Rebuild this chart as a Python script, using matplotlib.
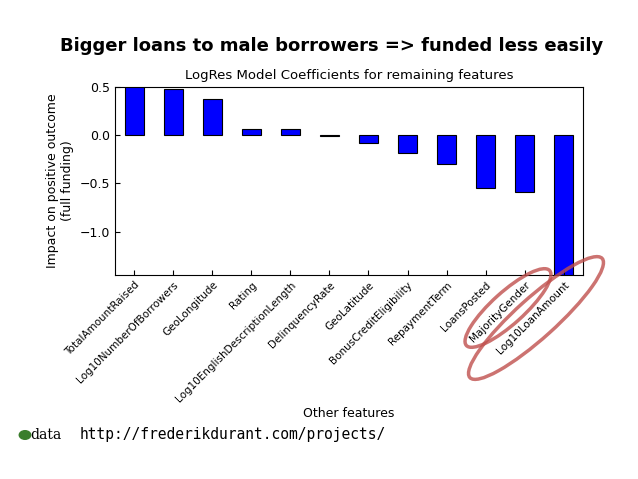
import matplotlib.pyplot as plt
import matplotlib.patches as patches
from matplotlib.transforms import IdentityTransform

features = ["TotalAmountRaised", "Log10NumberOfBorrowers", "GeoLongitude", "Rating",
            "Log10EnglishDescriptionLength", "DelinquencyRate", "GeoLatitude",
            "BonusCreditEligibility", "RepaymentTerm", "LoansPosted",
            "MajorityGender", "Log10LoanAmount"]
coefs = [0.52, 0.48, 0.38, 0.07, 0.07, -0.01, -0.08, -0.18, -0.30, -0.55, -0.59, -1.50]

fig = plt.figure(figsize=(6.38, 4.79), dpi=100)
ax = fig.add_axes([0.180, 0.426, 0.734, 0.392])
x = range(len(features))
ax.bar(x, coefs, width=0.5, color="#0000ff", edgecolor="black", linewidth=0.8)
ax.set_xlim(-0.5, len(features) - 0.5)
ax.set_ylim(-1.45, 0.5)
ax.set_yticks([-1.0, -0.5, 0.0, 0.5])
ax.set_xticks(list(x))
ax.set_xticklabels(features, rotation=45, ha="right", fontsize=7.5, rotation_mode="anchor")
ax.tick_params(axis="y", labelsize=9)
ax.tick_params(direction="in")
ax.set_title("LogRes Model Coefficients for remaining features", fontsize=9.5)
ax.set_ylabel("Impact on positive outcome\n(full funding)", fontsize=9)
ax.set_xlabel("Other features", fontsize=9, labelpad=2)

fig.text(0.52, 0.905, "Bigger loans to male borrowers => funded less easily",
         ha="center", va="center", fontsize=13, fontweight="bold")

# red ellipses around the two highlighted labels (pixel coordinates)
for cx, cy, w, h in [(508, 308, 112, 32), (536, 318, 178, 40)]:
    e = patches.Ellipse((cx, 479 - cy), w, h, angle=42, transform=IdentityTransform(),
                        fill=False, edgecolor="#c0504d", linewidth=2.5, alpha=0.8)
    fig.add_artist(e)

# logo and link
fig.add_artist(patches.Circle((25 / 638, 1 - 435 / 479), 0.009, transform=fig.transFigure,
                              color="#3a7d2c"))
fig.text(30 / 638, 1 - 435 / 479, "data", fontsize=10, family="serif", va="center")
fig.text(80 / 638, 1 - 435 / 479, "http://frederikdurant.com/projects/", fontsize=10.5,
         family="DejaVu Sans Mono", va="center")

plt.savefig("out.png", dpi=100, facecolor="white")
